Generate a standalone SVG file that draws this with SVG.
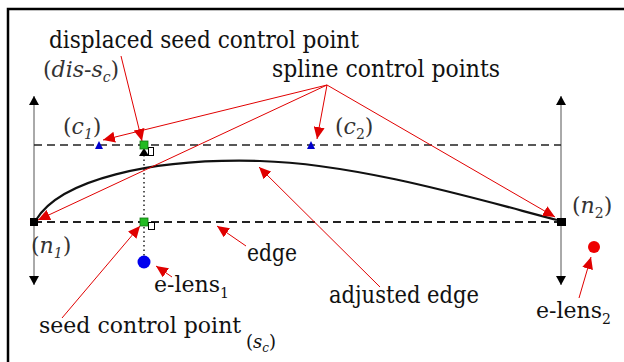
<svg xmlns="http://www.w3.org/2000/svg" width="624" height="362" viewBox="0 0 624 362">
<style>
text{fill:#111;font-family:"DejaVu Serif","Liberation Serif",serif}
.lbl{font-size:24px}
.par{font-size:22px;fill:#333}
.it{font-style:italic}
.ptr{stroke:#e00000;stroke-width:1;fill:none;marker-end:url(#ra)}
.dash{stroke:#222;fill:none;stroke-dasharray:8 5}
</style>
<defs>
<marker id="ra" markerUnits="userSpaceOnUse" markerWidth="13" markerHeight="11" refX="12" refY="5.5" orient="auto">
<path d="M0,0 L12,5.5 L0,11 z" fill="#e00000"/>
</marker>
<marker id="ba" markerUnits="userSpaceOnUse" markerWidth="10" markerHeight="10" refX="9" refY="5" orient="auto">
<path d="M0,0 L9,5 L0,10 z" fill="#000"/>
</marker>
</defs>
<rect width="624" height="362" fill="#fff"/>
<path d="M8,362 V9 H624" stroke="#000" stroke-width="2.5" fill="none"/>

<g id="axes">
<line x1="34" y1="190" x2="34" y2="96" stroke="#555" stroke-width="1" marker-end="url(#ba)"/>
<line x1="34" y1="190" x2="34" y2="285" stroke="#555" stroke-width="1" marker-end="url(#ba)"/>
<line x1="561" y1="190" x2="561" y2="96" stroke="#555" stroke-width="1" marker-end="url(#ba)"/>
<line x1="561" y1="190" x2="561" y2="285" stroke="#555" stroke-width="1" marker-end="url(#ba)"/>
<line class="dash" x1="34" y1="145" x2="561" y2="145" stroke-width="1.3"/>
<line class="dash" x1="34" y1="222" x2="561" y2="222" stroke-width="2"/>
<line x1="144" y1="155" x2="144" y2="258" stroke="#000" stroke-width="1.3" stroke-dasharray="1.5 3"/>
</g>

<g id="connectors">
<path id="adjusted-edge" d="M36,220 C60,180 150,158 260,161 C360,164 480,200 557,220" stroke="#111" stroke-width="2.2" fill="none"/>
<line class="ptr" x1="121" y1="56" x2="142" y2="141"/>
<line class="ptr" x1="327" y1="85" x2="103" y2="140"/>
<line class="ptr" x1="327" y1="85" x2="38" y2="220"/>
<line class="ptr" x1="327" y1="85" x2="317" y2="139"/>
<line class="ptr" x1="327" y1="85" x2="555" y2="217"/>
<line class="ptr" x1="380" y1="287" x2="259" y2="167"/>
<line class="ptr" x1="246" y1="246" x2="217" y2="226"/>
<line class="ptr" x1="172" y1="277" x2="156" y2="266"/>
<line class="ptr" x1="62" y1="318" x2="140" y2="226"/>
<line class="ptr" x1="579" y1="298" x2="591" y2="257"/>
</g>

<g id="n1">
<rect x="30" y="218" width="8" height="8" fill="#000"/>
<text class="par" x="31" y="253">(<tspan class="it">n</tspan><tspan class="it" font-size="14" dy="5">1</tspan><tspan dy="-5">)</tspan></text>
</g>
<g id="n2">
<rect x="557" y="218" width="9" height="8" fill="#000"/>
<text class="par" x="572" y="213">(<tspan class="it">n</tspan><tspan font-size="14" dy="5">2</tspan><tspan dy="-5">)</tspan></text>
</g>
<g id="c1">
<path d="M95,149 L99,141 L103,149 z" fill="#0000cc"/>
<text class="par" x="63" y="134">(<tspan class="it">c</tspan><tspan class="it" font-size="14" dy="5">1</tspan><tspan dy="-5">)</tspan></text>
</g>
<g id="c2">
<path d="M307,149 L311,141 L315,149 z" fill="#0000cc"/>
<text class="par" x="335" y="134">(<tspan class="it">c</tspan><tspan font-size="14" dy="5">2</tspan><tspan dy="-5">)</tspan></text>
</g>
<g id="dis-sc">
<path d="M139,156 L144,148 L149,156 z" fill="#000"/>
<rect x="148.5" y="147.5" width="5" height="8" fill="#fff" stroke="#000" stroke-width="1"/>
<rect x="140" y="141" width="8" height="8" fill="#22bb22" stroke="#117711" stroke-width="0.8"/>
<text class="par" x="43" y="77">(<tspan class="it">dis</tspan>-<tspan class="it">s</tspan><tspan class="it" font-size="14" dy="5">c</tspan><tspan dy="-5">)</tspan></text>
</g>
<g id="sc">
<rect x="148.5" y="222.5" width="6" height="7" fill="#fff" stroke="#000" stroke-width="1"/>
<rect x="140" y="218" width="8" height="8" fill="#22bb22" stroke="#117711" stroke-width="0.8"/>
<text x="39" y="333" font-size="22">seed control point</text>
<text x="246" y="348" font-size="18" fill="#333">(<tspan class="it">s</tspan><tspan class="it" font-size="12" dy="4">c</tspan><tspan dy="-4">)</tspan></text>
</g>
<g id="elens1">
<circle cx="144" cy="262" r="6.5" fill="#0000ee"/>
<text x="154" y="292" font-size="22">e-lens<tspan font-size="14" dy="6">1</tspan></text>
</g>
<g id="elens2">
<circle cx="594" cy="247" r="6" fill="#ee0000"/>
<text x="536" y="318" font-size="22">e-lens<tspan font-size="14" dy="6">2</tspan></text>
</g>
<g id="labels">
<text class="lbl" x="49" y="48" textLength="310" lengthAdjust="spacingAndGlyphs">displaced seed control point</text>
<text class="lbl" x="272" y="77" textLength="228" lengthAdjust="spacingAndGlyphs">spline control points</text>
<text class="lbl" x="247" y="261" textLength="50" lengthAdjust="spacingAndGlyphs">edge</text>
<text class="lbl" x="329" y="303" textLength="150" lengthAdjust="spacingAndGlyphs">adjusted edge</text>
</g>
</svg>
